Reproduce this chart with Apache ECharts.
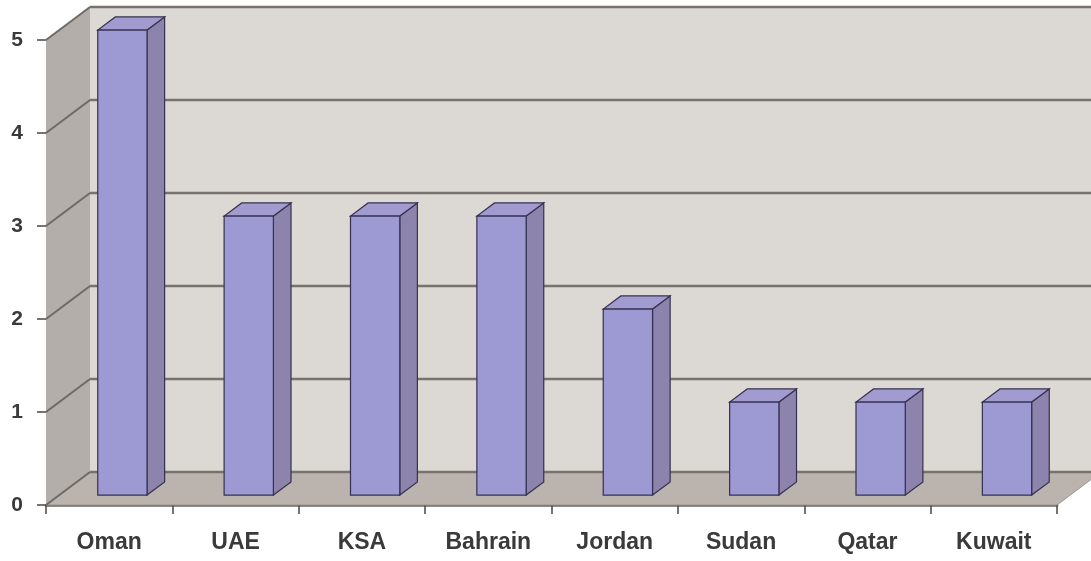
<!DOCTYPE html>
<html>
<head>
<meta charset="utf-8">
<script src="https://cdn.jsdelivr.net/npm/echarts@6/dist/echarts.min.js"></script>
<style>
html,body{margin:0;padding:0;background:#fff;}
#chart{width:1091px;height:561px;}
</style>
</head>
<body>
<div id="chart"></div>
<script>
const categories = ['Oman', 'UAE', 'KSA', 'Bahrain', 'Jordan', 'Sudan', 'Qatar', 'Kuwait'];
const values = [5, 3, 3, 3, 2, 1, 1, 1];
const gridValues = [0, 1, 2, 3, 4, 5];

const DX = 44, DY = -33;          // depth of the 3D box
const BAR_FRONT = 0.3, BAR_BACK = 0.7; // bar depth position (fraction of box depth)
const BAR_W = 0.39;               // bar width as fraction of band

const chart = echarts.init(document.getElementById('chart'));

function renderBackground(params, api) {
  const cs = params.coordSys;
  const x0 = cs.x, x1 = cs.x + cs.width;
  const yBase = api.coord([0, 0])[1];
  const yTop = api.coord([0, gridValues[gridValues.length - 1]])[1];
  const children = [];
  // back wall
  children.push({type: 'polygon', shape: {points: [[x0 + DX, yTop + DY], [x1 + DX + 40, yTop + DY], [x1 + DX + 40, yBase + DY], [x0 + DX, yBase + DY]]},
    style: {fill: '#dcd8d3'}});
  // side wall
  children.push({type: 'polygon', shape: {points: [[x0, yBase], [x0, yTop], [x0 + DX, yTop + DY], [x0 + DX, yBase + DY]]},
    style: {fill: '#b4aeaa'}});
  // floor
  children.push({type: 'polygon', shape: {points: [[x0, yBase], [x1, yBase], [x1 + DX, yBase + DY], [x0 + DX, yBase + DY]]},
    style: {fill: '#bab3ae', stroke: '#9a948f', lineWidth: 1}});
  gridValues.forEach(v => {
    const y = api.coord([0, v])[1];
    children.push({type: 'line', shape: {x1: x0, y1: y, x2: x0 + DX, y2: y + DY}, style: {stroke: '#6f6a66', lineWidth: 2}});
    children.push({type: 'line', shape: {x1: x0 + DX, y1: y + DY, x2: x1 + DX + 40, y2: y + DY}, style: {stroke: '#77726e', lineWidth: 2.5}});
  });
  return {type: 'group', children: children};
}

function renderBar(params, api) {
  const i = api.value(0), v = api.value(1);
  const base = api.coord([i, 0]);
  const top = api.coord([i, v]);
  const bw = api.size([1, 0])[0];
  const fdx = DX * BAR_FRONT, fdy = DY * BAR_FRONT;
  const sdx = DX * (BAR_BACK - BAR_FRONT), sdy = DY * (BAR_BACK - BAR_FRONT);
  const xl = base[0] - bw * BAR_W / 2 + fdx;
  const xr = base[0] + bw * BAR_W / 2 + fdx;
  const yb = base[1] + fdy;
  const yt = top[1] + fdy;
  const stroke = '#363150';
  return {type: 'group', children: [
    {type: 'polygon', shape: {points: [[xr, yt], [xr + sdx, yt + sdy], [xr + sdx, yb + sdy], [xr, yb]]},
      style: {fill: '#8c84ad', stroke: stroke, lineWidth: 1.2}},
    {type: 'polygon', shape: {points: [[xl, yt], [xr, yt], [xr + sdx, yt + sdy], [xl + sdx, yt + sdy]]},
      style: {fill: '#a19bcf', stroke: stroke, lineWidth: 1.2}},
    {type: 'rect', shape: {x: xl, y: yt, width: xr - xl, height: yb - yt},
      style: {fill: '#9c99d3', stroke: stroke, lineWidth: 1.2}}
  ]};
}

chart.setOption({
  animation: false,
  backgroundColor: '#ffffff',
  grid: {left: 46, right: 34, top: 40, bottom: 56},
  xAxis: {
    type: 'category',
    data: categories,
    axisLine: {show: true, lineStyle: {color: '#6b6661', width: 2.5}},
    axisTick: {show: true, length: 9, lineStyle: {color: '#4a4643', width: 1.5}},
    axisLabel: {fontFamily: 'Liberation Sans', fontSize: 23, fontWeight: 'bold', color: '#3a3a3a', margin: 26}
  },
  yAxis: {
    type: 'value',
    min: 0, max: 5, interval: 1,
    axisLine: {show: false},
    axisTick: {show: true, length: 9, lineStyle: {color: '#4a4643', width: 1.5}},
    splitLine: {show: false},
    axisLabel: {fontFamily: 'Liberation Sans', fontSize: 21, fontWeight: 'bold', color: '#3a3a3a', margin: 23}
  },
  series: [
    {type: 'custom', renderItem: renderBackground, data: [[0, 0]], clip: false, z: 1, silent: true},
    {type: 'custom', renderItem: renderBar, data: values.map((v, i) => [i, v]), clip: false, z: 2}
  ]
});
</script>
</body>
</html>
